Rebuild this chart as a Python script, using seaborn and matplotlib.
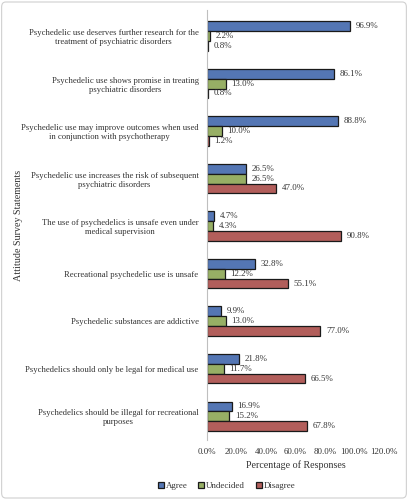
import matplotlib
matplotlib.use("Agg")
import matplotlib.pyplot as plt
import seaborn as sns
import pandas as pd
from matplotlib.patches import FancyBboxPatch

statements = [
    "Psychedelic use deserves further research for the\ntreatment of psychiatric disorders",
    "Psychedelic use shows promise in treating\npsychiatric disorders",
    "Psychedelic use may improve outcomes when used\nin conjunction with psychotherapy",
    "Psychedelic use increases the risk of subsequent\npsychiatric disorders",
    "The use of psychedelics is unsafe even under\nmedical supervision",
    "Recreational psychedelic use is unsafe",
    "Psychedelic substances are addictive",
    "Psychedelics should only be legal for medical use",
    "Psychedelics should be illegal for recreational\npurposes",
]
agree = [96.9, 86.1, 88.8, 26.5, 4.7, 32.8, 9.9, 21.8, 16.9]
undecided = [2.2, 13.0, 10.0, 26.5, 4.3, 12.2, 13.0, 11.7, 15.2]
disagree = [0.8, 0.8, 1.2, 47.0, 90.8, 55.1, 77.0, 66.5, 67.8]
responses = ["Agree", "Undecided", "Disagree"]
colors = ["#4472C4", "#9BBB59", "#C0504D"]

rows = []
for resp, vals in zip(responses, [agree, undecided, disagree]):
    for s, v in zip(statements, vals):
        rows.append({"Statement": s, "Response": resp, "Value": v})
df = pd.DataFrame(rows)

sns.set_style("white")
plt.rcParams["font.family"] = ["Liberation Serif", "DejaVu Serif"]

fig = plt.figure(figsize=(4.08, 5.0), dpi=100)
ax = fig.add_axes([0.507, 0.12, 0.434, 0.86])

sns.barplot(data=df, y="Statement", x="Value", hue="Response", order=statements,
            hue_order=responses, palette=colors, orient="h", width=0.62,
            edgecolor="#1a1a1a", linewidth=0.9, ax=ax)

for cont in ax.containers:
    ax.bar_label(cont, fmt="%.1f%%", padding=4, fontsize=6.4, color="#333333")

ax.set_xlim(0, 120)
ax.set_ylim(8.5, -0.55)
ax.set_xticks(range(0, 121, 20))
ax.set_xticklabels([f"{t:.1f}%" for t in range(0, 121, 20)], fontsize=6.4, color="#333333")
ax.tick_params(axis="y", labelsize=6.2, labelcolor="#333333", length=0, pad=6)
ax.tick_params(axis="x", length=0, pad=6)
for lbl in ax.get_yticklabels():
    lbl.set_multialignment("center")

for sp in ["top", "right", "bottom"]:
    ax.spines[sp].set_visible(False)
ax.spines["left"].set_color("#BFBFBF")
ax.spines["left"].set_linewidth(0.8)

ax.set_xlabel("Percentage of Responses", fontsize=7.2, color="#333333", labelpad=3)
ax.set_ylabel("")
fig.text(0.045, 0.55, "Attitude Survey Statements", rotation=90, ha="center",
         va="center", fontsize=7.2, color="#333333")

handles, labels = ax.get_legend_handles_labels()
ax.legend_.remove()
fig.legend(handles, labels, loc="center", bbox_to_anchor=(0.555, 0.028), ncol=3,
           frameon=False, fontsize=6.4, handlelength=0.7, handleheight=0.7,
           handletextpad=0.2, columnspacing=1.2, labelcolor="#333333")

fig.patches.append(FancyBboxPatch((0.004, 0.004), 0.992, 0.992,
                                  boxstyle="round,pad=0,rounding_size=0.01",
                                  transform=fig.transFigure, fill=False,
                                  edgecolor="#D0D0D0", linewidth=0.8))

fig.savefig("out.png", dpi=100)
